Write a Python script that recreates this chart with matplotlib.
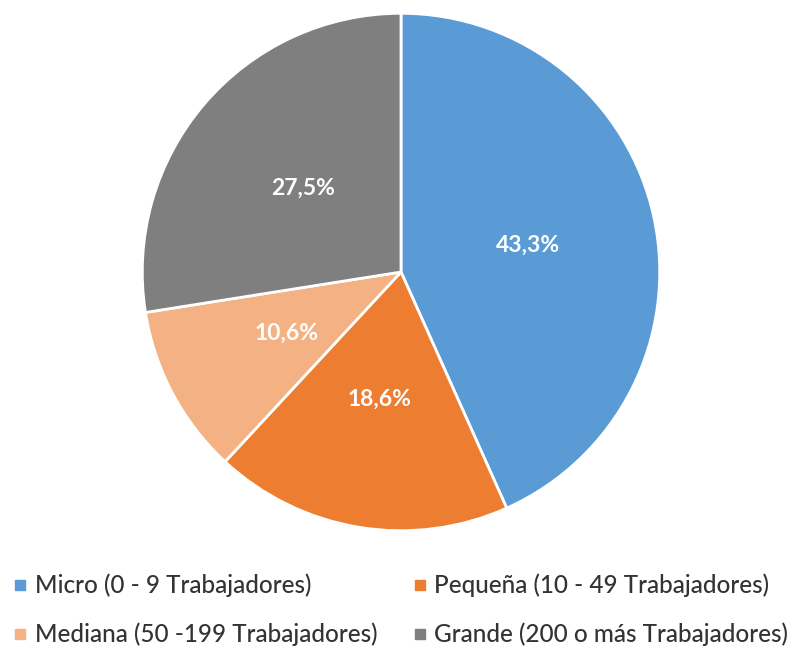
import matplotlib
matplotlib.use("Agg")
import matplotlib.pyplot as plt
from matplotlib.lines import Line2D

categories = ["Micro (0 - 9 Trabajadores)", "Pequeña (10 - 49 Trabajadores)",
              "Mediana (50 -199 Trabajadores)", "Grande (200 o más Trabajadores)"]
values = [43.3, 18.6, 10.6, 27.5]
labels = ["43,3%", "18,6%", "10,6%", "27,5%"]
colors = ["#5B9BD5", "#ED7D31", "#F4B183", "#7F7F7F"]

plt.rcParams['font.family'] = ['Lato', 'DejaVu Sans']

fig = plt.figure(figsize=(8.04, 6.51), dpi=100)
ax = fig.add_axes([141/804, 119/651, 520/804, 520/651])
wedges, texts = ax.pie(values, colors=colors, startangle=90, counterclock=False,
                       labels=labels, labeldistance=0.5,
                       wedgeprops=dict(edgecolor="white", linewidth=2),
                       textprops=dict(color="white", fontsize=16.5, fontweight="bold"))
for t in texts:
    t.set_ha("center")
    t.set_va("center")
ax.set_xlim(-1.005, 1.005)
ax.set_ylim(-1.005, 1.005)
ax.set_aspect("equal")

handles = [Line2D([0], [0], marker="s", linestyle="none", markersize=7,
                  markerfacecolor=c, markeredgecolor=c) for c in colors]
order = [0, 2, 1, 3]
fig.legend([handles[i] for i in order], [categories[i] for i in order], ncol=2,
           loc="center", bbox_to_anchor=(401/804, 1 - 610/651),
           frameon=False, fontsize=17.5, labelcolor="#333333", handlelength=0.5,
           handletextpad=0.35, columnspacing=1.5, labelspacing=1.05,
           prop=dict(family=['Lato', 'DejaVu Sans'], size=17.5, weight='medium'))

fig.savefig("out.png", dpi=100, facecolor="white")
